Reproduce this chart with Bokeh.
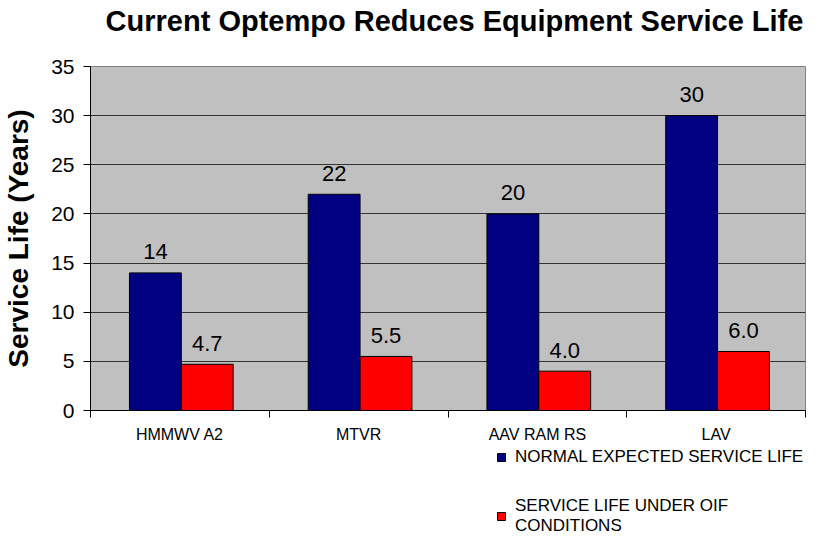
from bokeh.plotting import figure
from bokeh.models import Range1d, FixedTicker, Legend, LegendItem, Label
from bokeh.layouts import column
from bokeh.embed import file_html
from bokeh.resources import INLINE
from bokeh.core.properties import value

# ---- data ----
categories = ["HMMWV A2", "MTVR", "AAV RAM RS", "LAV"]
normal_life = [14, 22, 20, 30]
oif_life = [4.7, 5.5, 4.0, 6.0]
normal_labels = ["14", "22", "20", "30"]
oif_labels = ["4.7", "5.5", "4.0", "6.0"]
y_ticks = [0, 5, 10, 15, 20, 25, 30, 35]
series_names = ["NORMAL EXPECTED SERVICE LIFE", "SERVICE LIFE UNDER OIF\nCONDITIONS"]
title_text = "Current Optempo Reduces Equipment Service Life"
y_title = "Service Life (Years)"

FONT = "Liberation Sans"
W = 816
LEFT = 89
RIGHT = W - 805
NAVY = "#000080"
RED = "#FF0000"
bar_w = 0.29
shift = 0.008
centers = [i + 0.5 for i in range(len(categories))]
boundaries = [float(i) for i in range(len(categories) + 1)]
x_normal = [c - bar_w / 2 + shift for c in centers]
x_oif = [c + bar_w / 2 + shift for c in centers]


def blank(height):
    f = figure(width=W, height=height, output_backend="svg", toolbar_location=None,
               x_axis_location=None, y_axis_location=None,
               x_range=Range1d(0, len(categories)), y_range=Range1d(0, 35),
               min_border_left=LEFT, min_border_right=RIGHT, min_border_top=0, min_border_bottom=0,
               outline_line_color=None, background_fill_color="white", border_fill_color="white")
    f.xgrid.visible = False
    f.ygrid.visible = False
    return f


# ---- title strip ----
p_top = blank(40)
p_top.add_layout(Label(x=453 - LEFT, y=20, x_units="screen", y_units="screen", text=title_text,
                       text_align="center", text_baseline="alphabetic",
                       text_font=FONT, text_font_size="29px", text_font_style="bold",
                       text_color="black"))

# ---- chart ----
p = figure(width=W, height=408, x_range=Range1d(0, len(categories)), y_range=Range1d(0, 35),
           output_backend="svg", toolbar_location=None,
           min_border_left=LEFT, min_border_right=RIGHT, min_border_top=26, min_border_bottom=38,
           background_fill_color="#C0C0C0", border_fill_color="white",
           outline_line_color="#808080")

p.vbar(x=x_normal, top=normal_life, width=bar_w, fill_color=NAVY, line_color="black", line_width=1)
p.vbar(x=x_oif, top=oif_life, width=bar_w, fill_color=RED, line_color="black", line_width=1)

p.text(x=x_normal, y=normal_life, text=normal_labels, text_align="center", text_baseline="alphabetic",
       y_offset=-21, text_font=value(FONT), text_font_size="22px", text_color="black")
p.text(x=x_oif, y=oif_life, text=oif_labels, text_align="center", text_baseline="alphabetic",
       y_offset=-21, text_font=value(FONT), text_font_size="22px", text_color="black")

# x axis
xa = p.xaxis[0]
xa.ticker = FixedTicker(ticks=centers, minor_ticks=boundaries)
xa.major_label_overrides = {c: n for c, n in zip(centers, categories)}
xa.major_tick_out = 0
xa.major_tick_in = 0
xa.minor_tick_out = 7
xa.minor_tick_in = 0
xa.minor_tick_line_color = "black"
xa.axis_line_color = "black"
xa.major_label_standoff = 8
xa.major_label_text_font = FONT
xa.major_label_text_font_size = "16px"
xa.major_label_text_color = "black"
p.xgrid.visible = False

# y axis
ya = p.yaxis[0]
ya.ticker = FixedTicker(ticks=y_ticks)
ya.major_tick_out = 7
ya.major_tick_in = 0
ya.minor_tick_out = 0
ya.minor_tick_in = 0
ya.major_tick_line_color = "black"
ya.axis_line_color = "black"
ya.major_label_standoff = 9
ya.major_label_text_font = FONT
ya.major_label_text_font_size = "21px"
ya.major_label_text_color = "black"
ya.axis_label = y_title
ya.axis_label_text_font = FONT
ya.axis_label_text_font_size = "28px"
ya.axis_label_text_font_style = "bold"
ya.axis_label_text_color = "black"
ya.axis_label_standoff = 14
p.ygrid.ticker = FixedTicker(ticks=y_ticks)
p.ygrid.grid_line_color = "#333333"
p.ygrid.grid_line_width = 1

# ---- legend strip ----
p_leg = blank(88)
g1 = p_leg.vbar(x=x_normal, top=normal_life, width=bar_w, fill_color=NAVY, line_color="black",
                visible=False)
g2 = p_leg.vbar(x=x_oif, top=oif_life, width=bar_w, fill_color=RED, line_color="black",
                visible=False)
legend = Legend(items=[LegendItem(label=series_names[0], renderers=[g1]),
                       LegendItem(label=series_names[1], renderers=[g2])],
                location=(495 - LEFT, 0), orientation="vertical",
                glyph_width=10, glyph_height=10, label_standoff=9, spacing=29,
                label_text_font=FONT, label_text_font_size="17px", label_text_color="black",
                label_height=16, padding=0, margin=0,
                inactive_fill_alpha=0.0,
                border_line_alpha=0, background_fill_alpha=0)
p_leg.add_layout(legend)

layout = column(p_top, p, p_leg, spacing=0)
open("out.html", "w").write(file_html(layout, INLINE))
